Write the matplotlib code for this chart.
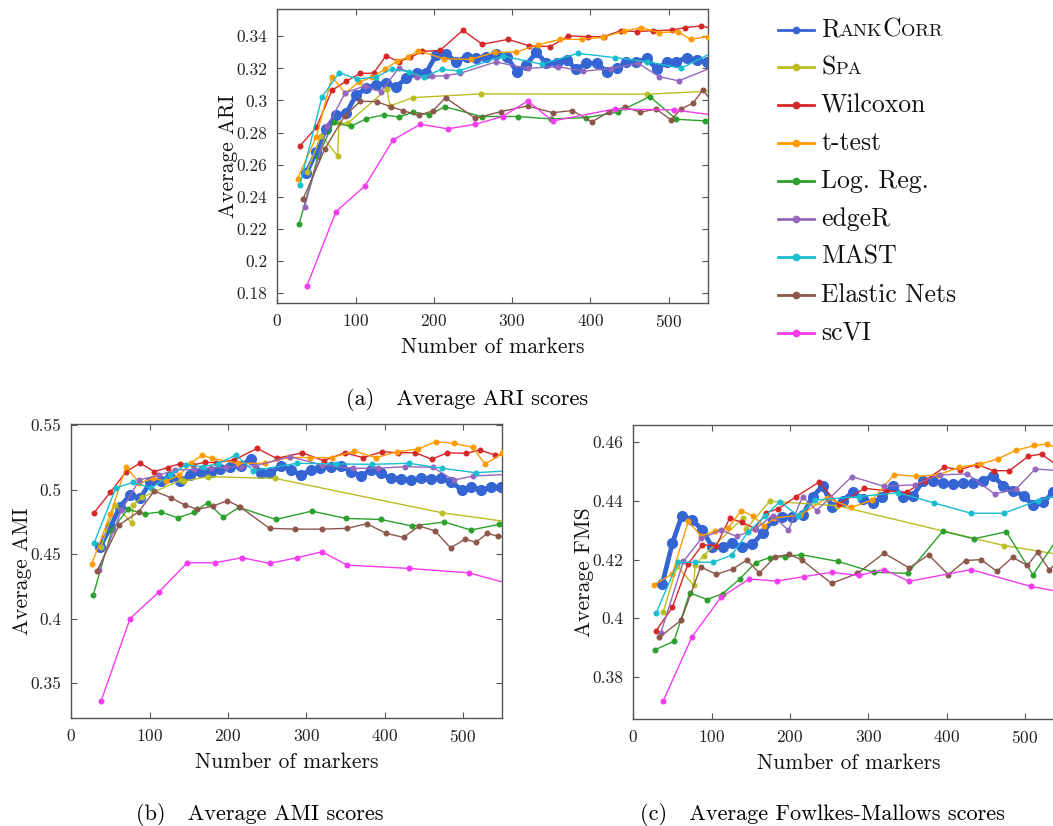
import matplotlib
matplotlib.use('Agg')
import matplotlib.pyplot as plt
from matplotlib.lines import Line2D
from matplotlib.ticker import FuncFormatter
from matplotlib.offsetbox import TextArea, HPacker, AnchoredOffsetbox

plt.rcParams['font.family'] = 'cmr10'
plt.rcParams['mathtext.fontset'] = 'cm'
plt.rcParams['axes.formatter.use_mathtext'] = True

# ---- data ----
x_rankcorr = [37, 50, 62, 75, 88, 101, 114, 126, 139, 152, 165, 178, 190, 203, 216, 229, 242, 254, 267, 280, 293,
              306, 318, 331, 344, 357, 370, 382, 395, 408, 421, 434, 446, 459, 472, 485, 498, 510, 523, 536, 549, 562]
ari_rankcorr = [0.2546, 0.2681, 0.2820, 0.2910, 0.2920, 0.3035, 0.3076, 0.3097, 0.3107, 0.3087, 0.3138, 0.3170,
                0.3170, 0.3284, 0.3290, 0.3238, 0.3274, 0.3263, 0.3274, 0.3290, 0.3274, 0.3180, 0.3222, 0.3299,
                0.3232, 0.3232, 0.3253, 0.3194, 0.3232, 0.3232, 0.3180, 0.3201, 0.3238, 0.3238, 0.3263, 0.3194,
                0.3242, 0.3242, 0.3267, 0.3253, 0.3238, 0.3245]
ami_rankcorr = [0.4557, 0.4712, 0.4868, 0.4959, 0.4933, 0.5062, 0.5067, 0.5101, 0.5067, 0.5114, 0.5135, 0.5140,
                0.5160, 0.5179, 0.5186, 0.5238, 0.5127, 0.5127, 0.5186, 0.5153, 0.5114, 0.5153, 0.5166, 0.5179,
                0.5184, 0.5140, 0.5106, 0.5153, 0.5127, 0.5088, 0.5083, 0.5075, 0.5088, 0.5083, 0.5088, 0.5062,
                0.4997, 0.5023, 0.4997, 0.5018, 0.5023, 0.5020]
fms_rankcorr = [0.4117, 0.4257, 0.4350, 0.4335, 0.4302, 0.4242, 0.4242, 0.4258, 0.4242, 0.4253, 0.4290, 0.4335,
                0.4346, 0.4344, 0.4352, 0.4415, 0.4452, 0.4378, 0.4401, 0.4430, 0.4407, 0.4392, 0.4415, 0.4452,
                0.4415, 0.4418, 0.4469, 0.4469, 0.4460, 0.4458, 0.4460, 0.4460, 0.4469, 0.4486, 0.4452, 0.4435,
                0.4418, 0.4385, 0.4395, 0.4430, 0.4450, 0.4460]

x_spa = [38, 56, 77, 79, 90, 140, 144, 174, 260, 473, 600]
ari_spa = [0.2557, 0.2781, 0.2656, 0.2858, 0.2858, 0.3070, 0.2966, 0.3018, 0.3041, 0.3039, 0.3069]
ami_spa = [0.4557, 0.4885, 0.4740, 0.4880, 0.4940, 0.5075, 0.5067, 0.5101, 0.5088, 0.4821, 0.4715]
fms_spa = [0.4021, 0.4178, 0.4112, 0.4180, 0.4214, 0.4342, 0.4305, 0.4399, 0.4384, 0.4248, 0.4193]

x_wilcoxon = [29, 50, 70, 88, 106, 123, 139, 155, 170, 185, 208, 237, 262, 295, 322, 349, 372, 397, 417, 439,
              460, 480, 504, 521, 541, 560]
ari_wilcoxon = [0.2717, 0.2833, 0.3064, 0.3120, 0.3169, 0.3170, 0.3279, 0.3242, 0.3268, 0.3306, 0.3312, 0.3437,
                0.3350, 0.3381, 0.3340, 0.3336, 0.3402, 0.3398, 0.3398, 0.3435, 0.3429, 0.3435, 0.3439, 0.3454,
                0.3464, 0.3445]
ami_wilcoxon = [0.4821, 0.4981, 0.5140, 0.5207, 0.5140, 0.5172, 0.5203, 0.5192, 0.5212, 0.5210, 0.5231, 0.5321,
                0.5243, 0.5287, 0.5225, 0.5287, 0.5249, 0.5295, 0.5287, 0.5287, 0.5236, 0.5287, 0.5282, 0.5308,
                0.5269, 0.5265]
fms_wilcoxon = [0.3957, 0.4038, 0.4185, 0.4250, 0.4248, 0.4341, 0.4327, 0.4306, 0.4360, 0.4373, 0.4415, 0.4464,
                0.4388, 0.4443, 0.4435, 0.4430, 0.4469, 0.4515, 0.4507, 0.4524, 0.4503, 0.4503, 0.4552, 0.4560,
                0.4520, 0.4510]

x_ttest = [26, 50, 70, 87, 104, 121, 138, 153, 167, 180, 213, 247, 278, 305, 333, 361, 389, 416, 443, 465, 488,
           512, 528, 550, 570]
ari_ttest = [0.2513, 0.2775, 0.3148, 0.3045, 0.3115, 0.3144, 0.3197, 0.3244, 0.3270, 0.3310, 0.3260, 0.3256,
             0.3300, 0.3302, 0.3346, 0.3381, 0.3381, 0.3394, 0.3433, 0.3454, 0.3423, 0.3429, 0.3381, 0.3398, 0.3400]
ami_ttest = [0.4422, 0.4811, 0.5180, 0.5050, 0.5088, 0.5067, 0.5114, 0.5210, 0.5267, 0.5243, 0.5205, 0.5205,
             0.5251, 0.5249, 0.5249, 0.5300, 0.5249, 0.5295, 0.5316, 0.5373, 0.5360, 0.5329, 0.5199, 0.5282, 0.5300]
fms_ttest = [0.4113, 0.4152, 0.4330, 0.4280, 0.4297, 0.4308, 0.4367, 0.4348, 0.4314, 0.4342, 0.4352, 0.4410,
             0.4378, 0.4403, 0.4490, 0.4484, 0.4489, 0.4515, 0.4526, 0.4543, 0.4572, 0.4589, 0.4594, 0.4570, 0.4550]

x_logreg = [28, 52, 72, 94, 114, 136, 156, 174, 194, 214, 261, 307, 350, 395, 435, 476, 510, 546, 580]
ari_logreg = [0.2232, 0.2650, 0.2864, 0.2838, 0.2887, 0.2910, 0.2897, 0.2928, 0.2910, 0.2961, 0.2900, 0.2900,
              0.2885, 0.2893, 0.2927, 0.3024, 0.2883, 0.2873, 0.2870]
ami_logreg = [0.4182, 0.4690, 0.4847, 0.4813, 0.4827, 0.4782, 0.4824, 0.4899, 0.4785, 0.4863, 0.4769, 0.4834,
              0.4777, 0.4769, 0.4718, 0.4749, 0.4687, 0.4731, 0.4740]
fms_logreg = [0.3893, 0.3922, 0.4087, 0.4064, 0.4084, 0.4134, 0.4190, 0.4207, 0.4210, 0.4217, 0.4194, 0.4157,
              0.4153, 0.4297, 0.4271, 0.4295, 0.4148, 0.4290, 0.4300]

x_edger = [35, 64, 87, 112, 132, 156, 178, 198, 216, 234, 279, 320, 359, 391, 426, 461, 488, 513, 560]
ari_edger = [0.2339, 0.2840, 0.3048, 0.3091, 0.3055, 0.3205, 0.3149, 0.3150, 0.3155, 0.3170, 0.3240, 0.3200,
             0.3211, 0.3182, 0.3199, 0.3232, 0.3149, 0.3122, 0.3215]
ami_edger = [0.4376, 0.4842, 0.5077, 0.5112, 0.5153, 0.5158, 0.5170, 0.5174, 0.5180, 0.5184, 0.5256, 0.5192,
             0.5166, 0.5166, 0.5179, 0.5174, 0.5075, 0.5106, 0.5120]
fms_edger = [0.3949, 0.4194, 0.4272, 0.4301, 0.4279, 0.4305, 0.4350, 0.4300, 0.4415, 0.4367, 0.4483, 0.4450,
             0.4455, 0.4489, 0.4492, 0.4424, 0.4439, 0.4509, 0.4500]

x_mast = [29, 57, 79, 102, 126, 146, 168, 187, 210, 232, 288, 338, 384, 431, 473, 516, 570]
ari_mast = [0.2474, 0.3020, 0.3173, 0.3134, 0.3145, 0.3196, 0.3180, 0.3148, 0.3194, 0.3184, 0.3277, 0.3226,
            0.3294, 0.3267, 0.3242, 0.3201, 0.3333]
ami_mast = [0.4584, 0.5016, 0.5057, 0.5012, 0.5114, 0.5192, 0.5179, 0.5200, 0.5270, 0.5148, 0.5205, 0.5200,
            0.5197, 0.5205, 0.5166, 0.5132, 0.5150]
fms_mast = [0.4017, 0.4191, 0.4191, 0.4191, 0.4216, 0.4293, 0.4348, 0.4398, 0.4350, 0.4403, 0.4415, 0.4428,
            0.4393, 0.4358, 0.4358, 0.4401, 0.4440]

x_elastic = [33, 61, 86, 106, 127, 145, 161, 181, 199, 215, 253, 286, 320, 352, 377, 402, 424, 444, 464, 484,
             503, 516, 531, 544, 560]
ari_elastic = [0.2386, 0.2700, 0.2903, 0.2995, 0.2993, 0.2961, 0.2936, 0.2907, 0.2936, 0.3017, 0.2889, 0.2931,
               0.2966, 0.2924, 0.2937, 0.2866, 0.2931, 0.2958, 0.2927, 0.2947, 0.2879, 0.2947, 0.2983, 0.3066, 0.2960]
ami_elastic = [0.4371, 0.4726, 0.4829, 0.4990, 0.4938, 0.4881, 0.4847, 0.4873, 0.4915, 0.4868, 0.4700, 0.4694,
               0.4694, 0.4700, 0.4736, 0.4661, 0.4630, 0.4718, 0.4681, 0.4549, 0.4617, 0.4591, 0.4661, 0.4640, 0.4630]
fms_elastic = [0.3935, 0.3993, 0.4175, 0.4150, 0.4168, 0.4199, 0.4154, 0.4210, 0.4218, 0.4199, 0.4119, 0.4153,
               0.4222, 0.4172, 0.4216, 0.4149, 0.4197, 0.4200, 0.4160, 0.4208, 0.4180, 0.4225, 0.4165, 0.4200, 0.4190]

x_scvi = [38, 75, 112, 148, 183, 218, 253, 288, 320, 352, 431, 507, 580]
ari_scvi = [0.1846, 0.2307, 0.2467, 0.2754, 0.2852, 0.2823, 0.2852, 0.2900, 0.2997, 0.2872, 0.2947, 0.2941, 0.2895]
ami_scvi = [0.3360, 0.4000, 0.4207, 0.4433, 0.4433, 0.4472, 0.4428, 0.4472, 0.4518, 0.4415, 0.4389, 0.4355, 0.4235]
fms_scvi = [0.3717, 0.3937, 0.4072, 0.4134, 0.4127, 0.4142, 0.4157, 0.4146, 0.4166, 0.4126, 0.4166, 0.4109, 0.4073]

# legend labels: (text, small caps?) pieces
labels = [[('R', 0), ('ANK', 1), ('C', 0), ('ORR', 1)], [('S', 0), ('PA', 1)], [('Wilcoxon', 0)], [('t-test', 0)],
          [('Log. Reg.', 0)], [('edgeR', 0)], [('MAST', 0)], [('Elastic Nets', 0)], [('scVI', 0)]]
colors = ['#3465d3', '#bcbd22', '#d62728', '#ff9a00', '#2ca02c', '#9467bd', '#17becf', '#8c564b', '#f53bf0']

xs = [x_rankcorr, x_spa, x_wilcoxon, x_ttest, x_logreg, x_edger, x_mast, x_elastic, x_scvi]
ari = [ari_rankcorr, ari_spa, ari_wilcoxon, ari_ttest, ari_logreg, ari_edger, ari_mast, ari_elastic, ari_scvi]
ami = [ami_rankcorr, ami_spa, ami_wilcoxon, ami_ttest, ami_logreg, ami_edger, ami_mast, ami_elastic, ami_scvi]
fms = [fms_rankcorr, fms_spa, fms_wilcoxon, fms_ttest, fms_logreg, fms_edger, fms_mast, fms_elastic, fms_scvi]

fig = plt.figure(figsize=(10.53, 8.26), dpi=100)
ax_a = fig.add_axes([0.2633, 0.6332, 0.4088, 0.3559])
ax_b = fig.add_axes([0.0677, 0.1304, 0.4093, 0.3563])
ax_c = fig.add_axes([0.6014, 0.1296, 0.4093, 0.3563])

spine_col = '#555555'


def panel(ax, ys, ylim, yticks, ylabel):
    for i in range(len(xs)):
        if i == 0:
            ax.plot(xs[i], ys[i], color=colors[i], lw=3.4, marker='o', ms=7, zorder=2)
        else:
            ax.plot(xs[i], ys[i], color=colors[i], lw=1.0, marker='o', ms=3.3, zorder=3)
    ax.set_xlim(0, 550)
    ax.set_ylim(*ylim)
    ax.set_xticks([0, 100, 200, 300, 400, 500])
    ax.set_yticks(yticks)
    ax.yaxis.set_major_formatter(FuncFormatter(lambda v, p: f'{v:g}'))
    ax.tick_params(direction='in', top=True, right=True, length=4, width=0.8, labelsize=12.5,
                   color=spine_col, labelcolor='#222222', pad=7)
    for s in ax.spines.values():
        s.set_color(spine_col)
        s.set_linewidth(1.0)
    ax.set_xlabel('Number of markers', fontsize=15.5, color='#111111')
    ax.set_ylabel(ylabel, fontsize=15.5, color='#111111')
    ax.yaxis.set_label_coords(-0.091, 0.5)
    ax.xaxis.set_label_coords(0.5, -0.117)


panel(ax_a, ari, (0.1738, 0.357), [0.18, 0.2, 0.22, 0.24, 0.26, 0.28, 0.3, 0.32, 0.34], 'Average ARI')
panel(ax_b, ami, (0.3226, 0.551), [0.35, 0.4, 0.45, 0.5, 0.55], 'Average AMI')
panel(ax_c, fms, (0.3657, 0.466), [0.38, 0.4, 0.42, 0.44, 0.46], 'Average FMS')

# captions
fig.text(467 / 1053, 1 - 399 / 826, '(a)   Average ARI scores', ha='center', va='center', fontsize=16)
fig.text(260 / 1053, 1 - 815 / 826, '(b)   Average AMI scores', ha='center', va='center', fontsize=16)
fig.text(822 / 1053, 1 - 815 / 826, '(c)   Average Fowlkes-Mallows scores', ha='center', va='center', fontsize=16)

# legend drawn by hand (small caps need two font sizes)
W, H = 1053.0, 826.0
for i, parts in enumerate(labels):
    y = 1 - (29.5 + 37.9 * i) / H
    fig.add_artist(Line2D([778 / W, 814 / W], [y, y], transform=fig.transFigure, color=colors[i], lw=2.0))
    fig.add_artist(Line2D([796 / W], [y], transform=fig.transFigure, color=colors[i], marker='o', ms=4.5))
    boxes = [TextArea(t, textprops=dict(fontsize=13.4 if sc else 18.5, color='#111111')) for t, sc in parts]
    pack = HPacker(children=boxes, align='baseline', pad=0, sep=0)
    ab = AnchoredOffsetbox(loc='center left', child=pack, pad=0, borderpad=0, frameon=False,
                           bbox_to_anchor=(821 / W, y), bbox_transform=fig.transFigure)
    fig.add_artist(ab)

fig.savefig('out.png', dpi=100)
